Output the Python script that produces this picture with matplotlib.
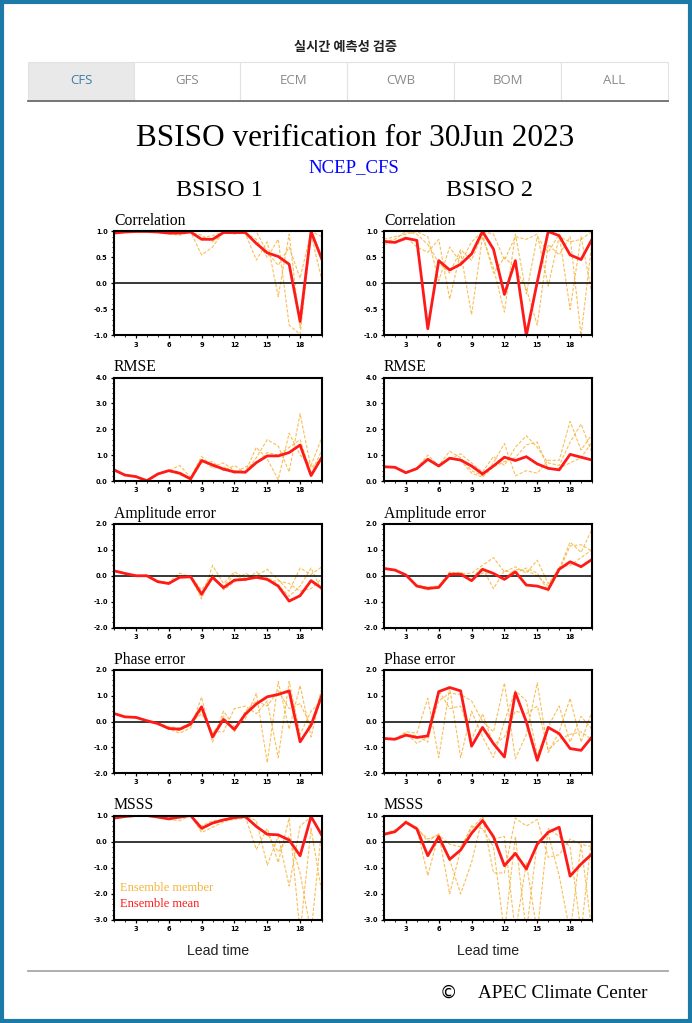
import matplotlib
matplotlib.use("Agg")
import matplotlib.pyplot as plt
from matplotlib.patches import Rectangle
from matplotlib.lines import Line2D
from matplotlib.ticker import MultipleLocator, FormatStrFormatter
import numpy as np

lead = np.arange(1, 21)

tabs = ["CFS", "GFS", "ECM", "CWB", "BOM", "ALL"]
metrics = ["Correlation", "RMSE", "Amplitude error", "Phase error", "MSSS"]
ylims = [(-1, 1), (0, 4), (-2, 2), (-2, 2), (-3, 1)]
ymajor = [0.5, 1.0, 1.0, 1.0, 1.0]
yminor = [0.1, 0.2, 0.2, 0.2, 0.2]

# ensemble mean, BSISO 1
b1_corr = [0.97, 0.99, 1.0, 1.0, 0.99, 0.97, 0.97, 0.99, 0.85, 0.85, 0.98, 0.98, 0.98, 0.77, 0.59, 0.52, 0.37, -0.73, 1.0, 0.46]
b1_rmse = [0.43, 0.23, 0.17, 0.01, 0.27, 0.40, 0.30, 0.08, 0.79, 0.62, 0.46, 0.35, 0.34, 0.71, 0.97, 0.97, 1.10, 1.39, 0.21, 0.92]
b1_amp = [0.19, 0.09, 0.0, 0.0, -0.23, -0.30, -0.06, -0.04, -0.71, -0.06, -0.46, -0.17, -0.14, -0.06, -0.14, -0.40, -0.98, -0.77, -0.19, -0.49]
b1_phase = [0.31, 0.18, 0.16, 0.03, -0.08, -0.27, -0.30, -0.10, 0.57, -0.60, 0.08, -0.31, 0.29, 0.68, 0.96, 1.05, 1.19, -0.79, -0.14, 1.03]
b1_msss = [0.90, 0.96, 1.0, 1.0, 0.94, 0.87, 0.94, 1.0, 0.51, 0.71, 0.83, 0.92, 0.96, 0.58, 0.28, 0.26, 0.06, -0.54, 0.96, 0.23]

# ensemble mean, BSISO 2
b2_corr = [0.81, 0.79, 0.87, 0.83, -0.87, 0.44, 0.26, 0.37, 0.57, 1.0, 0.66, -0.21, 0.44, -1.0, 0.03, 1.0, 0.92, 0.55, 0.46, 0.85]
b2_rmse = [0.55, 0.53, 0.32, 0.48, 0.84, 0.58, 0.88, 0.81, 0.58, 0.27, 0.58, 0.92, 0.79, 0.94, 0.66, 0.49, 0.43, 1.03, 0.92, 0.81]
b2_amp = [0.28, 0.22, 0.03, -0.40, -0.49, -0.45, 0.06, 0.06, -0.19, 0.25, 0.09, -0.14, 0.15, -0.36, -0.40, -0.53, 0.25, 0.54, 0.35, 0.63]
b2_phase = [-0.66, -0.69, -0.53, -0.62, -0.56, 1.16, 1.32, 1.19, -0.96, -0.23, -0.86, -1.38, 1.12, -0.01, -1.51, -0.23, -0.47, -1.05, -1.12, -0.60]
b2_msss = [0.28, 0.38, 0.74, 0.49, -0.54, 0.19, -0.68, -0.32, 0.32, 0.81, 0.19, -0.92, -0.45, -1.05, -0.10, 0.36, 0.55, -1.32, -0.86, -0.47]

# ensemble members, BSISO 1
b1_corr_m = [
    [0.98, 1.0, 1.0, 1.0, 0.99, 0.95, 0.93, 0.99, 0.55, 0.70, 1.0, 0.97, 0.96, 0.45, 0.80, -0.25, 0.95, -0.85, 0.95, 0.05],
    [0.97, 0.99, 1.0, 1.0, 0.99, 0.97, 0.96, 1.0, 0.88, 0.92, 0.99, 0.99, 0.98, 0.85, 0.50, 0.85, -0.80, -0.98, 0.92, 0.55],
    [0.96, 0.99, 1.0, 0.99, 0.98, 0.96, 0.97, 0.98, 0.93, 0.80, 0.98, 0.95, 1.0, 1.0, 0.60, 0.35, 0.70, 0.10, 1.0, 0.90],
]
b1_rmse_m = [
    [0.45, 0.25, 0.18, 0.02, 0.28, 0.40, 0.60, 0.15, 0.95, 0.55, 0.70, 0.40, 0.35, 1.30, 0.85, 0.05, 1.85, 1.00, 0.60, 1.70],
    [0.40, 0.22, 0.15, 0.03, 0.30, 0.38, 0.25, 0.05, 0.70, 0.75, 0.40, 0.60, 0.30, 0.90, 1.60, 1.35, 0.35, 2.60, 0.50, 0.90],
    [0.42, 0.20, 0.17, 0.05, 0.25, 0.42, 0.35, 0.10, 0.85, 0.50, 0.55, 0.30, 0.55, 0.70, 1.10, 1.00, 1.30, 1.60, 0.30, 1.20],
]
b1_amp_m = [
    [0.18, 0.08, 0.0, 0.02, -0.20, -0.25, 0.10, -0.05, -0.90, 0.40, -0.30, 0.15, -0.10, 0.00, 0.25, -0.15, -0.60, 0.30, 0.05, 0.35],
    [0.20, 0.10, 0.01, -0.02, -0.25, -0.32, -0.05, 0.00, -0.55, 0.05, -0.55, -0.25, 0.10, -0.10, -0.05, -0.35, -0.80, -0.40, 0.30, -0.60],
    [0.19, 0.09, 0.0, 0.0, -0.22, -0.28, -0.08, -0.03, -0.80, -0.10, -0.40, 0.05, -0.20, 0.15, -0.20, -0.20, -0.30, -0.60, -0.50, -0.10],
]
b1_phase_m = [
    [0.30, 0.17, 0.15, 0.00, -0.10, -0.30, -0.45, -0.25, 0.95, -0.80, 0.40, -0.20, 0.10, 1.10, -1.60, 1.55, -0.30, 1.40, -0.60, 1.20],
    [0.32, 0.19, 0.16, 0.02, -0.05, -0.20, -0.25, -0.05, 0.30, -0.40, -0.40, 0.50, 0.60, 0.30, 0.80, -1.40, 1.55, -0.50, 0.40, 0.80],
    [0.31, 0.18, 0.14, 0.05, -0.12, -0.28, -0.35, -0.15, 0.45, -0.50, 0.20, -0.40, 0.40, 0.80, 0.60, 1.20, 0.50, 0.70, -0.20, 1.30],
]
b1_msss_m = [
    [0.88, 0.95, 1.0, 1.0, 0.93, 0.85, 0.80, 1.0, 0.35, 0.55, 0.75, 0.90, 0.95, -0.30, 0.50, -0.80, 0.90, -3.5, 0.50, -2.0],
    [0.90, 0.96, 1.0, 1.0, 0.95, 0.90, 0.95, 0.98, 0.60, 0.80, 0.85, 0.95, 1.0, 0.80, -0.90, 0.20, -1.70, 0.60, 0.95, 0.30],
    [0.91, 0.97, 1.0, 0.99, 0.94, 0.88, 0.90, 0.99, 0.45, 0.70, 0.80, 0.85, 0.90, 0.60, 0.30, -0.40, 0.20, -1.20, -3.5, 0.60],
]

# ensemble members, BSISO 2
b2_corr_m = [
    [0.85, 0.90, 0.95, 1.0, 0.90, 0.05, 0.70, 0.40, 0.80, 1.0, 0.95, 0.45, 0.90, 0.85, 0.95, -0.05, 0.90, 0.80, 0.85, 1.0],
    [0.75, 0.80, 0.90, 0.70, 0.60, 0.85, -0.30, 0.60, -0.60, 0.90, 0.30, -0.55, 0.95, -0.20, 0.90, 0.60, 0.95, -0.50, 0.90, -0.20],
    [0.80, 0.85, 1.0, 0.95, 0.75, 0.40, 0.20, 0.65, 0.45, 0.95, 0.20, 0.50, 0.30, -0.10, -0.80, 0.75, 0.55, 0.90, -1.0, 0.80],
]
b2_rmse_m = [
    [0.55, 0.50, 0.30, 0.50, 1.00, 0.60, 1.15, 0.90, 0.40, 0.20, 0.70, 1.45, 0.20, 0.40, 0.30, 0.80, 0.80, 2.30, 1.20, 1.80],
    [0.52, 0.55, 0.35, 0.45, 0.80, 0.55, 0.85, 1.05, 0.70, 0.35, 0.95, 0.60, 1.30, 1.75, 1.30, 0.70, 0.60, 1.50, 2.20, 1.10],
    [0.58, 0.50, 0.33, 0.50, 0.85, 0.62, 0.90, 0.80, 0.30, 0.15, 0.55, 0.75, 0.90, 1.40, 1.50, 0.45, 0.50, 0.70, 0.90, 1.50],
]
b2_amp_m = [
    [0.28, 0.20, 0.02, -0.35, -0.45, -0.38, 0.15, 0.08, 0.10, 0.40, 0.70, 0.15, 0.35, 0.10, 0.60, -0.30, 0.25, 1.30, 0.90, 1.80],
    [0.26, 0.22, 0.05, -0.42, -0.55, -0.40, 0.00, 0.10, -0.05, 0.30, -0.50, 0.20, 0.10, 0.30, 0.10, -0.60, 0.20, 1.15, 1.20, 0.95],
    [0.30, 0.21, 0.03, -0.38, -0.50, -0.48, 0.05, 0.15, -0.20, 0.10, 0.10, -0.10, 0.25, 0.20, 0.00, -0.40, 0.35, 0.40, 0.70, 1.00],
]
b2_phase_m = [
    [-0.65, -0.65, -0.45, -0.85, -0.60, 0.80, 1.10, 1.05, 0.80, 0.00, -0.40, 1.50, -1.45, -0.50, 1.50, -1.20, -0.40, 0.90, -0.80, 0.40],
    [-0.68, -0.70, -0.40, -0.45, 0.90, -1.40, 1.30, -1.40, 0.40, -0.60, -1.40, 0.00, 1.20, 0.80, -1.30, -0.20, 0.60, -0.80, 0.20, -0.30],
    [-0.66, -0.68, -0.50, -0.55, -0.80, 1.20, 0.50, 0.60, -0.70, 0.30, -0.90, -0.60, 0.40, 0.30, 0.60, -1.10, -0.70, -0.50, -0.40, -0.70],
]
b2_msss_m = [
    [0.30, 0.45, 0.70, 0.50, -1.30, 0.30, -0.70, -2.00, -0.80, 0.95, -1.20, -1.20, 0.90, 0.60, 0.85, -0.60, -0.50, 0.10, -0.10, -3.5],
    [0.25, 0.35, 0.80, 0.50, 0.10, 0.25, -0.10, -0.20, 0.50, 0.95, 0.10, 0.20, -3.5, -0.80, -3.5, 0.50, 0.20, -0.20, -3.5, 0.30],
    [0.28, 0.40, 0.75, 0.55, 0.00, 0.30, -2.00, -0.30, 0.60, 0.50, -0.20, -3.5, 0.20, -3.5, 0.00, 0.30, -1.30, -3.5, -0.10, -0.20],
]

means = [[b1_corr, b1_rmse, b1_amp, b1_phase, b1_msss],
         [b2_corr, b2_rmse, b2_amp, b2_phase, b2_msss]]
members = [[b1_corr_m, b1_rmse_m, b1_amp_m, b1_phase_m, b1_msss_m],
           [b2_corr_m, b2_rmse_m, b2_amp_m, b2_phase_m, b2_msss_m]]

W, H = 692, 1023
fig = plt.figure(figsize=(W / 100, H / 100), dpi=100)

def fx(px):
    return px / W

def fy(py):
    return 1 - py / H

serif = "Liberation Serif"
member_col = "#f6b43c"

# page frame
fig.add_artist(Rectangle((fx(2), fy(1021)), fx(688), 1019 / H, transform=fig.transFigure,
                         fill=False, edgecolor="#1b7aa7", linewidth=3.0))

# header + tabs
fig.text(fx(346), fy(47), "실시간 예측성 검증", ha="center", va="center", fontsize=9.5,
         family=["Noto Sans CJK KR", "DejaVu Sans"], fontweight="bold", color="#222222")
tab_edges = [28, 134, 240, 347, 454, 561, 668]
for i, name in enumerate(tabs):
    x0, x1 = tab_edges[i], tab_edges[i + 1]
    fig.add_artist(Rectangle((fx(x0), fy(101)), fx(x1 - x0), 39 / H, transform=fig.transFigure,
                             facecolor="#e9e9e9" if i == 0 else "white",
                             edgecolor="#e2e2e2", linewidth=0.8))
    fig.text(fx((x0 + x1) / 2), fy(81), name, ha="center", va="center", fontsize=9.5,
             family="Open Sans", color="#3d7ea6" if i == 0 else "#8a8a8a")
fig.add_artist(Line2D([fx(28), fx(668)], [fy(101), fy(101)], transform=fig.transFigure,
                      color="#6d6d6d", linewidth=1.3))

# titles
fig.text(fx(355), fy(138), "BSISO verification for 30Jun 2023", ha="center", va="center",
         fontsize=22.5, family=serif)
fig.text(fx(354), fy(168), "NCEP_CFS", ha="center", va="center", fontsize=13.5,
         family=serif, color="#0000ff")
fig.text(fx(219), fy(190), "BSISO 1", ha="center", va="center", fontsize=17.5, family=serif)
fig.text(fx(490), fy(190), "BSISO 2", ha="center", va="center", fontsize=17.5, family=serif)

col_x = [114, 384]
row_y = [(231.5, 335.5), (377.5, 481), (524, 627.5), (670, 773), (815.5, 920)]

for c in range(2):
    for r in range(5):
        top, bot = row_y[r]
        ax = fig.add_axes([fx(col_x[c]), fy(bot), fx(208), (bot - top) / H])
        for m in members[c][r]:
            ax.plot(lead, m, color=member_col, linestyle=(0, (3, 1.5)), linewidth=0.8, alpha=0.85)
        ax.axhline(0, color="black", linewidth=1.1)
        ax.plot(lead, means[c][r], color="#ff1a1a", linewidth=2.0)
        ax.set_xlim(1, 20)
        ax.set_ylim(*ylims[r])
        ax.xaxis.set_major_locator(MultipleLocator(3))
        ax.xaxis.set_minor_locator(MultipleLocator(1))
        ax.yaxis.set_major_locator(MultipleLocator(ymajor[r]))
        ax.yaxis.set_minor_locator(MultipleLocator(yminor[r]))
        ax.yaxis.set_major_formatter(FormatStrFormatter("%.1f"))
        ax.tick_params(which="major", direction="out", length=2.5, width=0.9,
                       labelsize=4.8, pad=2, top=False, right=False)
        ax.tick_params(which="minor", direction="out", length=1.5, width=0.6,
                       top=False, right=False)
        for lab in ax.get_xticklabels() + ax.get_yticklabels():
            lab.set_fontweight("bold")
        for s in ax.spines.values():
            s.set_linewidth(1.5)
        ax.text(0.0, 1.02, metrics[r], transform=ax.transAxes, ha="left", va="bottom",
                fontsize=11.3, family=serif)
    fig.text(fx(col_x[c] + 104), fy(951), "Lead time", ha="center", va="center",
             fontsize=10.2, family="Liberation Sans", color="#222222")

# legend text inside lower-left MSSS panel
fig.text(fx(120), fy(888), "Ensemble member", ha="left", va="center", fontsize=9,
         family=serif, color=member_col)
fig.text(fx(120), fy(904), "Ensemble mean", ha="left", va="center", fontsize=9,
         family=serif, color="#ff1a1a")

# footer
fig.add_artist(Line2D([fx(28), fx(668)], [fy(971), fy(971)], transform=fig.transFigure,
                      color="#a8a8a8", linewidth=1.3))
fig.text(fx(448), fy(993), "©", ha="center", va="center", fontsize=12.5, family="DejaVu Sans")
fig.text(fx(478), fy(993), "APEC Climate Center", ha="left", va="center", fontsize=13.8,
         family=serif)

fig.savefig("out.png", dpi=100)
